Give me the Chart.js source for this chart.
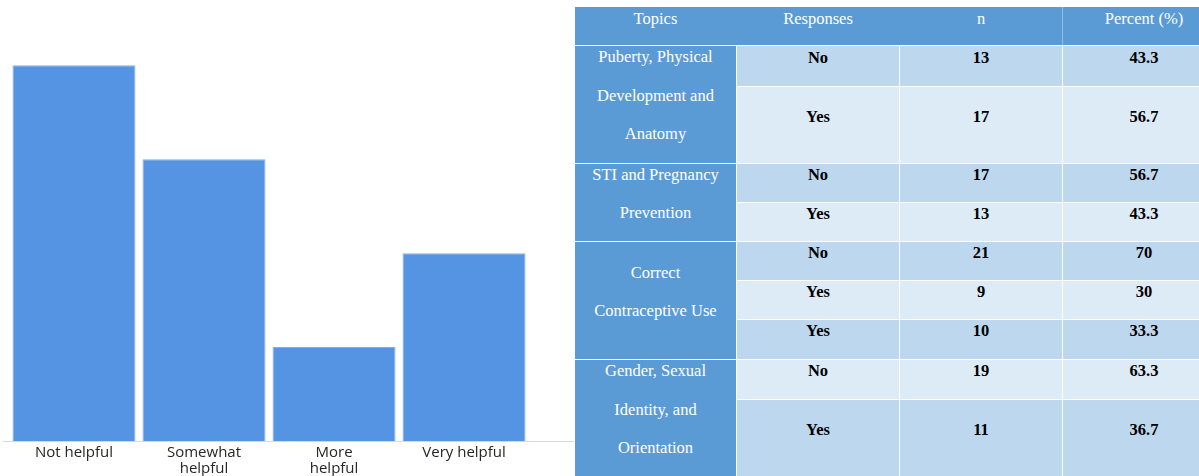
<!DOCTYPE html>
<html lang="en">

<head>
    <meta charset="UTF-8">
    <title>Helpfulness and topics</title>
    <script src="https://cdn.jsdelivr.net/npm/chart.js"></script>

    <style>
        body {
            margin: 0;
            background: #fff;
            width: 1199px;
            height: 476px;
            overflow: hidden;
            position: relative;
        }

        .grafico {
            position: absolute;
            left: 0;
            top: 0;
            width: 575px;
            height: 476px;
        }

        .tabela {
            position: absolute;
            left: 575px;
            top: 0;
            width: 624px;
            height: 476px;
            overflow: hidden;
            font-family: "Liberation Serif", "Times New Roman", serif;
            font-size: 16.5px;
        }

        .cel {
            position: absolute;
            display: flex;
            align-items: center;
            justify-content: center;
            text-align: center;
        }

        .cel span {
            position: relative;
            top: -8.5px;
        }

        .topo {
            background: #5b9bd5;
            color: #fff;
        }

        .topico {
            background: #5b9bd5;
            color: #fff;
            line-height: 38.5px;
            white-space: pre-line;
        }

        .escuro {
            background: #bdd7ee;
        }

        .claro {
            background: #ddebf7;
        }

        .dado {
            font-weight: bold;
            color: #000;
            line-height: 20px;
        }
    </style>
</head>

<body>

    <div class="grafico">
        <canvas id="canva1"></canvas>
    </div>

    <div class="tabela" id="tabela"></div>

    <script>
        // bar chart
        var categories = ["Not helpful", ["Somewhat", "helpful"], ["More", "helpful"], "Very helpful"];
        var values = [12, 9, 3, 6];

        // table
        var headers = ["Topics", "Responses", "n", "Percent (%)"];
        var topics = [
            "Puberty, Physical\nDevelopment and\nAnatomy",
            "STI and Pregnancy\nPrevention",
            "Correct\nContraceptive Use",
            "Gender, Sexual\nIdentity, and\nOrientation"
        ];
        var topicRows = [2, 2, 3, 2];
        var responses = ["No", "Yes", "No", "Yes", "No", "Yes", "Yes", "No", "Yes"];
        var counts = [13, 17, 17, 13, 21, 9, 10, 19, 11];
        var percents = [43.3, 56.7, 56.7, 43.3, 70, 30, 33.3, 63.3, 36.7];

        // table layout (pixels)
        var rowTops = [46, 87, 164, 203, 242, 281, 320, 360, 400];
        var rowHeights = [40, 76, 38, 38, 38, 38, 39, 39, 77];
        var colLefts = [0, 162, 325, 488];
        var colWidths = [161, 162, 162, 162];

        function celula(classe, left, top, width, height, texto) {
            var div = document.createElement("div");
            div.className = "cel " + classe;
            div.style.left = left + "px";
            div.style.top = top + "px";
            div.style.width = width + "px";
            div.style.height = height + "px";
            var span = document.createElement("span");
            span.textContent = texto;
            div.appendChild(span);
            document.getElementById("tabela").appendChild(div);
        }

        function montarTabela() {
            // header band, one faint divider before the last column
            var fundo = document.createElement("div");
            fundo.className = "cel topo";
            fundo.style.left = "0px";
            fundo.style.top = "7px";
            fundo.style.width = "650px";
            fundo.style.height = "38px";
            document.getElementById("tabela").appendChild(fundo);

            var linha = document.createElement("div");
            linha.style.cssText = "position:absolute;left:487px;top:7px;width:1px;height:38px;background:rgba(255,255,255,0.35)";
            document.getElementById("tabela").appendChild(linha);

            for (var c = 0; c < headers.length; c++) {
                var h = document.createElement("div");
                h.className = "cel";
                h.style.cssText = "left:" + colLefts[c] + "px;top:7px;width:" + colWidths[c] + "px;height:38px;color:#fff";
                var s = document.createElement("span");
                s.style.top = "-7.5px";
                s.textContent = headers[c];
                h.appendChild(s);
                document.getElementById("tabela").appendChild(h);
            }

            var inicio = 0;
            for (var t = 0; t < topics.length; t++) {
                var fim = inicio + topicRows[t] - 1;
                var topo = rowTops[inicio];
                var altura = rowTops[fim] + rowHeights[fim] - topo;
                celula("topico", colLefts[0], topo, colWidths[0], altura, topics[t]);
                inicio = fim + 1;
            }

            for (var i = 0; i < responses.length; i++) {
                var tom = i % 2 == 0 ? "escuro" : "claro";
                var linhaDados = [responses[i], String(counts[i]), String(percents[i])];
                for (var k = 0; k < 3; k++) {
                    celula("dado " + tom, colLefts[k + 1], rowTops[i], colWidths[k + 1], rowHeights[i], linhaDados[k]);
                }
            }
        }

        function plotarGrafico() {
            var pontos = [];
            for (var i = 0; i < values.length; i++) {
                pontos.push({ x: i, y: values[i] });
            }

            new Chart(document.getElementById("canva1"), {
                type: "bar",
                data: {
                    datasets: [{
                        data: pontos,
                        backgroundColor: "#5594e2",
                        borderColor: "#80b0ea",
                        borderWidth: 1,
                        borderSkipped: "start",
                        barPercentage: 1,
                        categoryPercentage: 0.946,
                    }],
                },
                options: {
                    responsive: true,
                    maintainAspectRatio: false,
                    animation: false,
                    layout: { padding: { left: 3, right: 2, top: 34, bottom: 0 } },
                    plugins: {
                        legend: { display: false },
                        tooltip: { enabled: false },
                    },
                    scales: {
                        x: {
                            type: "linear",
                            offset: false,
                            min: -0.546,
                            max: 3.838,
                            grid: { display: false },
                            border: { display: true, color: "#d9d9d9", width: 1 },
                            ticks: {
                                stepSize: 1,
                                includeBounds: false,
                                autoSkip: false,
                                maxRotation: 0,
                                padding: -5,
                                color: "#262626",
                                font: { family: "Open Sans", size: 15, lineHeight: 1.1 },
                                callback: function (v) {
                                    return Number.isInteger(v) ? categories[v] : "";
                                },
                            },
                            afterFit: function (scale) {
                                scale.height = 35;
                            },
                        },
                        y: { display: false, min: 0, max: 13 },
                    },
                },
            });
        }

        plotarGrafico();
        montarTabela();
    </script>

</body>

</html>
